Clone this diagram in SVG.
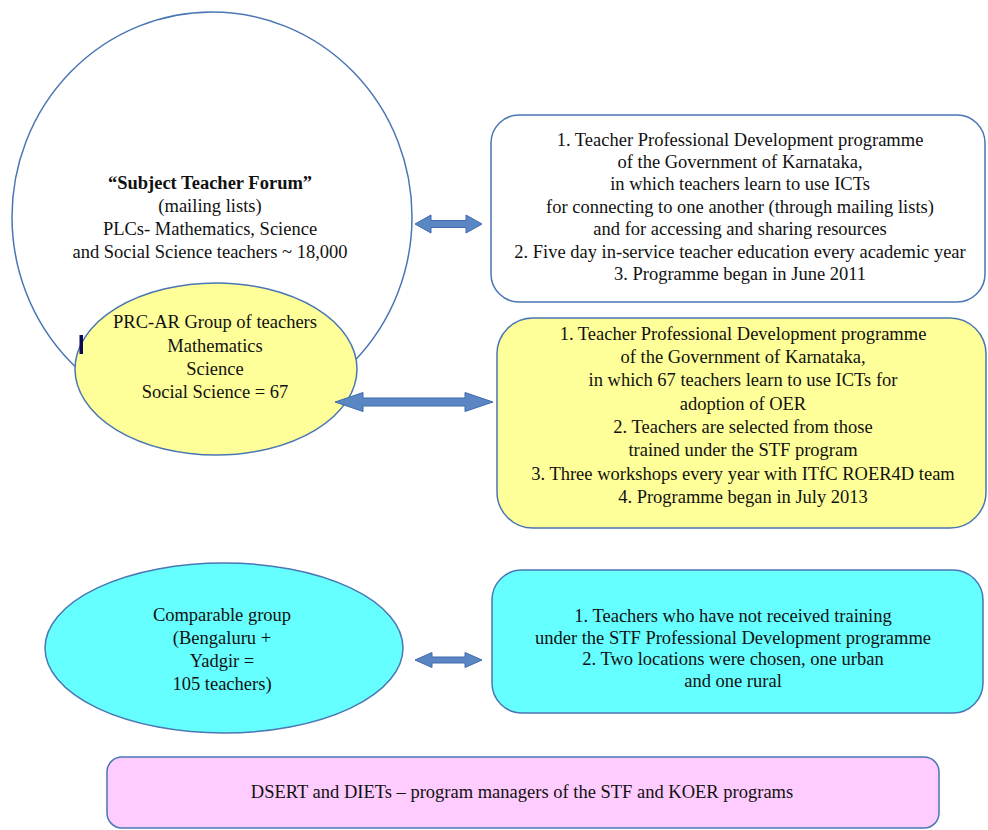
<svg xmlns="http://www.w3.org/2000/svg" width="988" height="830" viewBox="0 0 988 830">
<style>
  .t { font-family: "Liberation Serif", "Times New Roman", serif; font-size: 18.5px; fill: #111; text-anchor: middle; }
  .b { font-weight: bold; }
  .edge { stroke: #4A76B4; stroke-width: 1.5; }
  .arrow { fill: #5A86C4; stroke: #3E6BAA; stroke-width: 1; }
</style>
<rect x="0" y="0" width="988" height="830" fill="#ffffff"/>

<g id="stf-circle">
  <ellipse cx="212" cy="217" rx="200" ry="205" fill="#ffffff" class="edge"/>
  <text class="t b" x="210" y="189">“Subject Teacher Forum”</text>
  <text class="t" x="210" y="212">(mailing lists)</text>
  <text class="t" x="210" y="235">PLCs- Mathematics, Science</text>
  <text class="t" x="210" y="258">and Social Science teachers ~ 18,000</text>
</g>

<g id="prc-ellipse">
  <ellipse cx="216" cy="369" rx="141" ry="86" fill="#FFFF99" class="edge"/>
  <rect x="79.5" y="335" width="3.5" height="19" fill="#0a0a55"/>
  <text class="t" x="215" y="328">PRC-AR Group of teachers</text>
  <text class="t" x="215" y="352">Mathematics</text>
  <text class="t" x="215" y="375">Science</text>
  <text class="t" x="215" y="398">Social Science = 67</text>
</g>

<g id="stf-box">
  <rect x="491" y="115" width="494" height="187" rx="28" ry="28" fill="#ffffff" class="edge"/>
  <text class="t" x="740" y="146">1.  Teacher Professional  Development programme</text>
  <text class="t" x="740" y="168">of the Government of Karnataka,</text>
  <text class="t" x="740" y="190">in which teachers learn to use ICTs</text>
  <text class="t" x="740" y="213">for connecting to one another (through mailing lists)</text>
  <text class="t" x="740" y="235">and for accessing and sharing resources</text>
  <text class="t" x="740" y="258">2. Five day in-service teacher education every academic year</text>
  <text class="t" x="740" y="280">3. Programme began in June 2011</text>
</g>

<g id="koer-box">
  <rect x="497" y="318" width="489" height="210" rx="36" ry="36" fill="#FFFF99" class="edge"/>
  <text class="t" x="743" y="340">1. Teacher Professional Development programme</text>
  <text class="t" x="743" y="363">of the Government of Karnataka,</text>
  <text class="t" x="743" y="386">in which 67 teachers learn to use ICTs for</text>
  <text class="t" x="743" y="410">adoption of OER</text>
  <text class="t" x="743" y="433">2. Teachers are selected from those</text>
  <text class="t" x="743" y="456">trained under the STF program</text>
  <text class="t" x="743" y="480">3. Three workshops every year with ITfC ROER4D team</text>
  <text class="t" x="743" y="503">4. Programme began in July 2013</text>
</g>

<g id="comparable-ellipse">
  <ellipse cx="224" cy="648" rx="179" ry="85" fill="#66FFFF" class="edge"/>
  <text class="t" x="222" y="621">Comparable group</text>
  <text class="t" x="222" y="644">(Bengaluru +</text>
  <text class="t" x="222" y="667">Yadgir =</text>
  <text class="t" x="222" y="690">105 teachers)</text>
</g>

<g id="comparable-box">
  <rect x="492" y="570" width="491" height="143" rx="30" ry="30" fill="#66FFFF" class="edge"/>
  <text class="t" x="733" y="622">1. Teachers who have not received training</text>
  <text class="t" x="733" y="643.5">under the STF Professional Development programme</text>
  <text class="t" x="733" y="665">2.  Two locations were chosen, one urban</text>
  <text class="t" x="733" y="686.5">and one rural</text>
</g>

<g id="managers-box">
  <rect x="107" y="757" width="832" height="71" rx="15" ry="15" fill="#FFCCFF" class="edge"/>
  <text class="t" x="522" y="798">DSERT and DIETs – program managers of the STF and KOER programs</text>
</g>

<g id="connectors">
  <path class="arrow" d="M415,224 L431,215 L431,220.5 L466,220.5 L466,215 L482,224 L466,233 L466,227.5 L431,227.5 L431,233 Z"/>
  <path class="arrow" d="M335,402 L363,392.5 L363,398 L465,398 L465,392.5 L493,402 L465,411.5 L465,406 L363,406 L363,411.5 Z"/>
  <path class="arrow" d="M415,660 L432,652.5 L432,657 L465,657 L465,652.5 L482,660 L465,667.5 L465,663 L432,663 L432,667.5 Z"/>
</g>
</svg>
